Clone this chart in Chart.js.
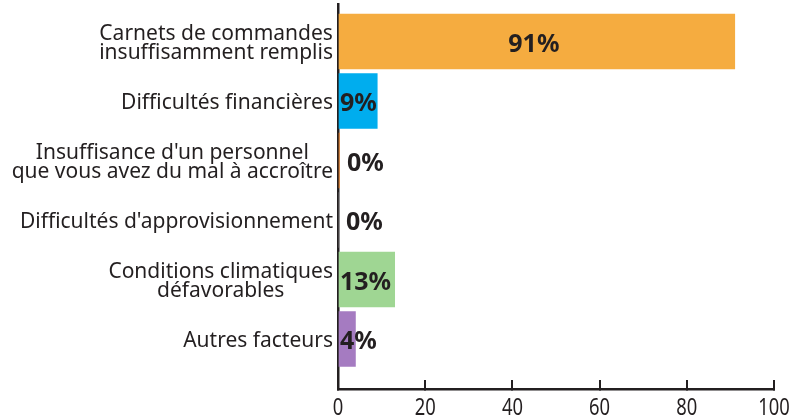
<!DOCTYPE html>
<html>
<head>
<meta charset="utf-8">
<script src="https://cdn.jsdelivr.net/npm/chart.js@4.4.1/dist/chart.umd.min.js"></script>
<style>
  html, body { margin: 0; padding: 0; background: #fff; }
  #wrap { width: 790px; height: 415px; position: relative; }
</style>
</head>
<body>
<div id="wrap"><canvas id="chart"></canvas></div>
<script>
/* ── Data ── */
const CATEGORIES = [
  ['Carnets de commandes', 'insuffisamment remplis'],
  ['Difficultés financières'],
  ["Insuffisance d'un personnel", 'que vous avez du mal à accroître'],
  ["Difficultés d'approvisionnement"],
  ['Conditions climatiques', 'défavorables'],
  ['Autres facteurs'],
];
const VALUES     = [91, 9, 0.3, 0, 13, 4];
const VALUE_TEXT = ['91%', '9%', '0%', '0%', '13%', '4%'];
const COLORS     = ['#f5ac40', '#00adee', '#f58220', '#8c8c8c', '#9fd693', '#a57bc1'];
const X_TICKS    = [0, 20, 40, 60, 80, 100];

/* ── Constants ── */
const INK   = '#231f20';
const FONT  = '"Noto Sans", "Open Sans", sans-serif';

/* ── Category labels: each block right-aligned, lines centred ── */
const catLabels = {
  id: 'catLabels',
  afterDraw(chart) {
    const { ctx, chartArea } = chart;
    const y = chart.scales.y;
    ctx.save();
    ctx.font = '21px ' + FONT;
    ctx.fillStyle = INK;
    ctx.textAlign = 'center';
    ctx.textBaseline = 'middle';
    const lh = 19;
    CATEGORIES.forEach((lines, i) => {
      const widest = Math.max(...lines.map(l => ctx.measureText(l).width));
      const cx = chartArea.left - 5 - widest / 2;
      const cy = y.getPixelForValue(i) + 2;
      lines.forEach((l, k) => {
        ctx.fillText(l, cx, cy + (k - (lines.length - 1) / 2) * lh);
      });
    });
    ctx.restore();
  },
};

/* ── x tick labels, slightly condensed like the original ── */
const xLabels = {
  id: 'xLabels',
  afterDraw(chart) {
    const { ctx } = chart;
    const x = chart.scales.x;
    const sx = 0.8;
    ctx.save();
    ctx.font = '23px ' + FONT;
    ctx.fillStyle = INK;
    ctx.textAlign = 'center';
    ctx.textBaseline = 'top';
    ctx.scale(sx, 1);
    X_TICKS.forEach(v => {
      ctx.fillText(String(v), x.getPixelForValue(v) / sx, x.top + 8);
    });
    ctx.restore();
  },
};

/* ── Value labels on bars ── */
const valueLabels = {
  id: 'valueLabels',
  afterDatasetsDraw(chart) {
    const { ctx } = chart;
    ctx.save();
    ctx.font = 'bold 25px ' + FONT;
    ctx.fillStyle = INK;
    ctx.textBaseline = 'middle';
    chart.getDatasetMeta(0).data.forEach((bar, i) => {
      const v = VALUES[i];
      if (v > 50) {
        ctx.textAlign = 'center';
        ctx.fillText(VALUE_TEXT[i], (bar.base + bar.x) / 2 - 3, bar.y + 3);
      } else {
        ctx.textAlign = 'left';
        ctx.fillText(VALUE_TEXT[i], bar.base + (v < 1 ? 8 : 1), bar.y + 3);
      }
    });
    ctx.restore();
  },
};

new Chart(document.getElementById('chart'), {
  type: 'bar',
  plugins: [catLabels, xLabels, valueLabels],
  data: {
    datasets: [{
      data: VALUES.map((v, i) => ({ x: v, y: i })),
      backgroundColor: COLORS,
      borderWidth: 0,
      barThickness: 55,
    }],
  },
  options: {
    indexAxis: 'y',
    responsive: true,
    maintainAspectRatio: false,
    animation: false,
    layout: { padding: { top: 4, right: 16, bottom: 0, left: 0 } },
    plugins: { legend: { display: false }, tooltip: { enabled: false } },
    scales: {
      x: {
        type: 'linear',
        position: 'bottom',
        min: 0,
        max: 100,
        afterBuildTicks: s => { s.ticks = X_TICKS.map(v => ({ value: v })); },
        afterFit: s => { s.height = 26; s.paddingLeft = 0; s.paddingRight = 0; },
        border: { color: INK, width: 2.5 },
        grid: { drawOnChartArea: false, tickLength: -9, color: INK, lineWidth: 2 },
        ticks: { display: false },
      },
      y: {
        type: 'linear',
        reverse: true,
        offset: false,
        min: -0.63,
        max: 5.84,
        afterFit: s => { s.width = 338; },
        border: { color: INK, width: 2.5 },
        grid: { display: false },
        ticks: { display: false },
      },
    },
  },
});
</script>
</body>
</html>
